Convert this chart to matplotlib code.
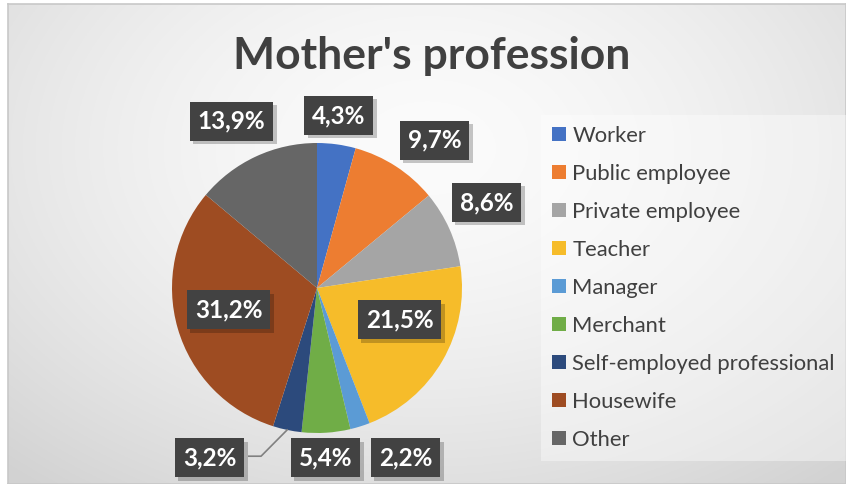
import numpy as np
import matplotlib.pyplot as plt
from matplotlib import patheffects as pe

plt.rcParams['font.family'] = ['Lato', 'DejaVu Sans']

title = "Mother's profession"
categories = ["Worker", "Public employee", "Private employee", "Teacher", "Manager",
              "Merchant", "Self-employed professional", "Housewife", "Other"]
shares = [4.3, 9.7, 8.6, 21.5, 2.2, 5.4, 3.2, 31.2, 13.9]
colors = ["#4472C4", "#ED7D31", "#A5A5A5", "#F6BC2A", "#5B9BD5",
          "#70AD47", "#2C4A7C", "#9E4C22", "#666666"]

# label box centres, in units of the pie radius
label_pos = [(0.15, 1.19), (0.81, 1.02), (1.17, 0.59), (0.57, -0.22), (0.61, -1.17),
             (0.06, -1.17), (-0.74, -1.17), (-0.61, -0.15), (-0.59, 1.15)]

W, H = 846, 484
fig = plt.figure(figsize=(W / 100, H / 100), dpi=100)
fig.patch.set_facecolor("white")

# radial gradient background of the chart area
bg = fig.add_axes([8 / W, 0, 1 - 8 / W, 1 - 4 / H])
yy, xx = np.mgrid[0:1:300j, 0:1:500j]
d = np.sqrt(((xx - 0.5) / 0.75) ** 2 + ((yy - 0.3) / 0.9) ** 2)
shade = 0.985 - 0.16 * np.clip(d, 0, 1) ** 1.6
bg.imshow(np.dstack([shade] * 3), extent=[0, 1, 0, 1], origin="upper", aspect="auto")
bg.set_xticks([])
bg.set_yticks([])
for s in bg.spines.values():
    s.set_color("#c8c8c8")
    s.set_linewidth(1.2)

fig.text(432 / W, 1 - 56 / H, title, ha="center", va="center",
         fontsize=32, fontweight="bold", color="#404040")

R = 145
cx, cy = 317, 288
ax = fig.add_axes([(cx - R) / W, (H - cy - R) / H, 2 * R / W, 2 * R / H])
wedges, _ = ax.pie(shares, colors=colors, startangle=90, counterclock=False,
                   radius=1, wedgeprops=dict(linewidth=0))
ax.set_xlim(-1, 1)
ax.set_ylim(-1, 1)
ax.set_aspect("equal")
ax.axis("off")

for v, (lx, ly) in zip(shares, label_pos):
    txt = f"{v:.1f}%".replace(".", ",")
    t = ax.text(lx, ly, txt, ha="center", va="center", fontsize=17.5, fontweight="bold",
                color="white", zorder=5,
                bbox=dict(boxstyle="square,pad=0.33", fc="#424242", ec="none", lw=0))
    t.get_bbox_patch().set_path_effects(
        [pe.SimplePatchShadow(offset=(2.5, -2.5), shadow_rgbFace="black", alpha=0.22),
         pe.Normal()])

# leader line for the small self-employed slice
w = wedges[6]
mid = np.deg2rad((w.theta1 + w.theta2) / 2)
ex, ey = np.cos(mid), np.sin(mid)
lx, ly = label_pos[6]
ax.plot([ex, ex - 0.18, lx + 0.27], [ey, ly + 0.01, ly + 0.01], color="#808080",
        lw=1.2, clip_on=False, zorder=3)

leg = fig.legend(wedges, categories, loc="upper left",
                 bbox_to_anchor=(541 / W, 1 - 115 / H), fontsize=15.8,
                 frameon=True, handlelength=0.62, handleheight=0.62,
                 handletextpad=0.3, labelspacing=0.82, borderpad=0.5,
                 borderaxespad=0, fancybox=False)
leg.get_frame().set_facecolor("white")
leg.get_frame().set_alpha(0.4)
leg.get_frame().set_edgecolor("none")
for t in leg.get_texts():
    t.set_color("#404040")

fig.savefig("out.png", dpi=100)
